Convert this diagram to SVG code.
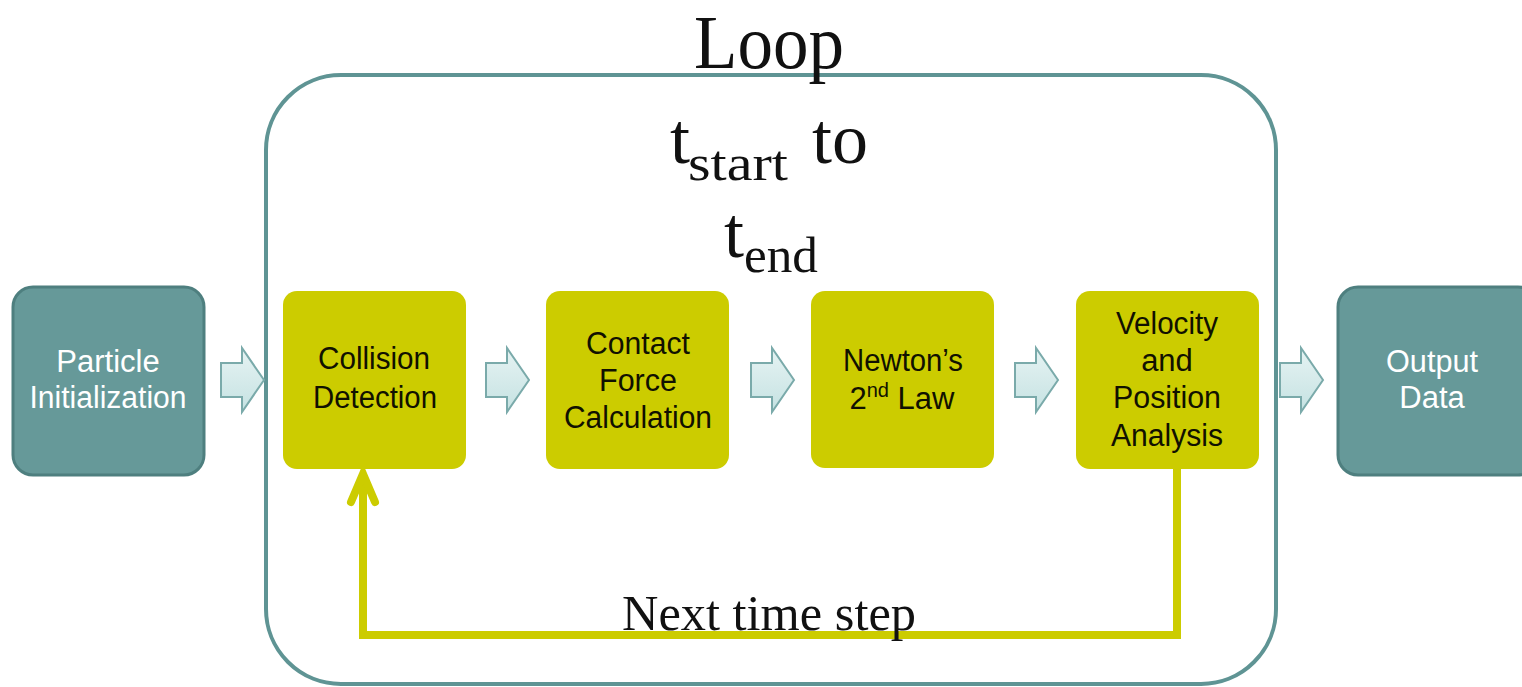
<svg xmlns="http://www.w3.org/2000/svg" width="1522" height="687" viewBox="0 0 1522 687">
<style>
.teal{fill:#669999;stroke:#4e7f7f;stroke-width:3}
.yel{fill:#cccc00;stroke:none}
.lbl{font-family:"Liberation Sans",Arial,sans-serif;font-size:31px;text-anchor:middle}
.dark{fill:#111100}
.white{fill:#ffffff}
.serif{font-family:"Liberation Serif","Times New Roman",serif;fill:#111111}
.barrow{fill:url(#bg);stroke:#7aaaaa;stroke-width:2}
.fb{fill:none;stroke:#cccc00;stroke-width:8;stroke-linejoin:miter}
</style>
<defs>
<linearGradient id="bg" x1="0" y1="0" x2="0" y2="1">
<stop offset="0" stop-color="#e6f3f3"/>
<stop offset="1" stop-color="#c5e2e2"/>
</linearGradient>
<path id="ba" d="M0,-17 H21 V-32 L43,0 L21,32 V17 H0 Z"/>
</defs>
<rect width="1522" height="687" fill="#ffffff"/>
<g id="loop">
<rect x="266" y="75" width="1010" height="609" rx="75" ry="75" fill="none" stroke="#5f9494" stroke-width="4"/>
<text class="serif" x="769" y="68" font-size="76" text-anchor="middle" textLength="150" lengthAdjust="spacingAndGlyphs">Loop</text>
<text class="serif" x="670" y="163" font-size="72">t</text>
<text class="serif" x="688" y="180" font-size="50" textLength="100" lengthAdjust="spacingAndGlyphs">start</text>
<text class="serif" x="812" y="163" font-size="72" textLength="56" lengthAdjust="spacingAndGlyphs">to</text>
<text class="serif" x="724" y="257" font-size="72">t</text>
<text class="serif" x="744" y="272" font-size="50" textLength="74" lengthAdjust="spacingAndGlyphs">end</text>
</g>
<g id="connectors">
<use href="#ba" class="barrow" x="221" y="380"/>
<use href="#ba" class="barrow" x="486" y="380"/>
<use href="#ba" class="barrow" x="751" y="380"/>
<use href="#ba" class="barrow" x="1015" y="380"/>
<use href="#ba" class="barrow" x="1280" y="380"/>
<polyline class="fb" points="1177,469 1177,635 363,635 363,474"/>
<polyline class="fb" points="351,502 363,474 375,502" stroke-linecap="round"/>
<text class="serif" x="622" y="630" font-size="50" textLength="294" lengthAdjust="spacingAndGlyphs">Next time step</text>
</g>
<g id="particle-init">
<rect class="teal" x="13" y="287" width="191" height="188" rx="20"/>
<text class="lbl white" x="108" y="372">Particle</text>
<text class="lbl white" x="108" y="408" textLength="157" lengthAdjust="spacingAndGlyphs">Initialization</text>
</g>
<g id="collision">
<rect class="yel" x="283" y="291" width="183" height="178" rx="14"/>
<text class="lbl dark" x="374" y="369" textLength="112" lengthAdjust="spacingAndGlyphs">Collision</text>
<text class="lbl dark" x="375" y="408" textLength="124" lengthAdjust="spacingAndGlyphs">Detection</text>
</g>
<g id="contact">
<rect class="yel" x="546" y="291" width="183" height="178" rx="14"/>
<text class="lbl dark" x="638" y="354" textLength="104" lengthAdjust="spacingAndGlyphs">Contact</text>
<text class="lbl dark" x="638" y="391" textLength="78" lengthAdjust="spacingAndGlyphs">Force</text>
<text class="lbl dark" x="638" y="428" textLength="148" lengthAdjust="spacingAndGlyphs">Calculation</text>
</g>
<g id="newton">
<rect class="yel" x="811" y="291" width="183" height="177" rx="14"/>
<text class="lbl dark" x="903" y="371" textLength="120" lengthAdjust="spacingAndGlyphs">Newton’s</text>
<text class="lbl dark" x="902" y="409">2<tspan font-size="20" dy="-12">nd</tspan><tspan dy="12"> Law</tspan></text>
</g>
<g id="velocity">
<rect class="yel" x="1076" y="291" width="183" height="178" rx="14"/>
<text class="lbl dark" x="1167" y="334" textLength="102" lengthAdjust="spacingAndGlyphs">Velocity</text>
<text class="lbl dark" x="1167" y="371">and</text>
<text class="lbl dark" x="1167" y="408" textLength="108" lengthAdjust="spacingAndGlyphs">Position</text>
<text class="lbl dark" x="1167" y="446" textLength="112" lengthAdjust="spacingAndGlyphs">Analysis</text>
</g>
<g id="output">
<rect class="teal" x="1338" y="287" width="200" height="188" rx="20"/>
<text class="lbl white" x="1432" y="372" textLength="92" lengthAdjust="spacingAndGlyphs">Output</text>
<text class="lbl white" x="1432" y="408">Data</text>
</g>
</svg>
